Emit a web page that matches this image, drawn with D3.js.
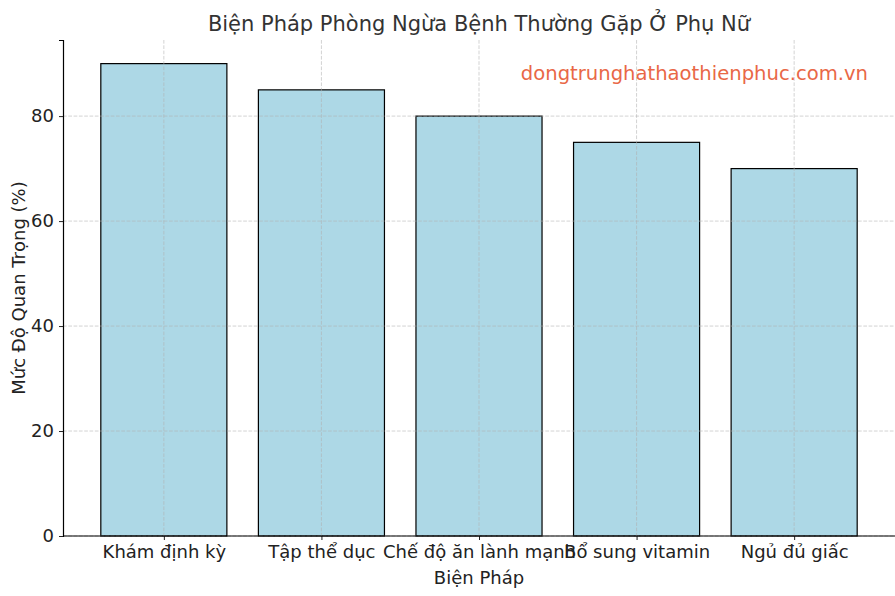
<!DOCTYPE html>
<html><head><meta charset="utf-8">
<script src="https://cdn.jsdelivr.net/npm/d3@7"></script>
<style>body{margin:0;background:#fff}svg{display:block}text{font-family:"DejaVu Sans",sans-serif}</style>
</head><body>
<script>
const categories = ["Khám định kỳ","Tập thể dục","Chế độ ăn lành mạnh","Bổ sung vitamin","Ngủ đủ giấc"];
const values = [90,85,80,75,70];
const yTicks = [0,20,40,60,80];
const title = "Biện Pháp Phòng Ngừa Bệnh Thường Gặp Ở Phụ Nữ";
const xLabel = "Biện Pháp";
const yLabel = "Mức Độ Quan Trọng (%)";
const watermark = "dongtrunghathaothienphuc.com.vn";

const W=895,H=596;
const m={left:63,right:0,top:40,bottom:60};
const svg=d3.select("body").append("svg").attr("width",W).attr("height",H);
const x=d3.scaleLinear().domain([-0.64,4.64]).range([m.left,W-m.right]);
const y=d3.scaleLinear().domain([0,94.5]).range([H-m.bottom,m.top]);
const g=svg.append("g");

// bars
g.selectAll("rect.bar").data(values).join("rect").attr("class","bar")
 .attr("x",(d,i)=>x(i-0.4)).attr("width",(d,i)=>x(i+0.4)-x(i-0.4))
 .attr("y",d=>y(d)).attr("height",d=>y(0)-y(d))
 .attr("fill","#add8e6").attr("stroke","#000").attr("stroke-width",1.2);

// grid over bars
g.selectAll("line.hg").data(yTicks).join("line")
 .attr("x1",m.left).attr("x2",W).attr("y1",d=>y(d)).attr("y2",d=>y(d))
 .attr("stroke","#b0b0b0").attr("stroke-opacity",0.7).attr("stroke-dasharray","3.7,1.6").attr("stroke-width",0.8);
g.selectAll("line.vg").data(categories).join("line")
 .attr("x1",(d,i)=>x(i)).attr("x2",(d,i)=>x(i)).attr("y1",m.top).attr("y2",y(0))
 .attr("stroke","#b0b0b0").attr("stroke-opacity",0.7).attr("stroke-dasharray","3.7,1.6").attr("stroke-width",0.8);

// axes
const yAxis=d3.axisLeft(y).tickValues(yTicks).tickSize(4).tickPadding(5);
const ya=svg.append("g").attr("transform",`translate(${m.left},0)`).call(yAxis);
ya.select(".domain").attr("stroke","#000").attr("stroke-width",1.2);
ya.selectAll("text").attr("font-size",18).attr("fill","#222").attr("font-family","DejaVu Sans");
ya.selectAll(".tick line").attr("stroke","#222");

const xAxis=d3.axisBottom(d3.scalePoint().domain(categories).range([x(0),x(4)])).tickSize(4).tickPadding(5);
const xa=svg.append("g").attr("transform",`translate(0,${y(0)})`).call(xAxis);
xa.select(".domain").remove();
xa.append("line").attr("x1",m.left).attr("x2",W).attr("stroke","#000").attr("stroke-width",1.2);
xa.selectAll("text").attr("font-size",18).attr("fill","#222").attr("font-family","DejaVu Sans");
xa.selectAll(".tick line").attr("stroke","#222");

// labels
svg.append("text").attr("x",479).attr("y",31).attr("text-anchor","middle").attr("font-size",21).attr("fill","#333").text(title);
svg.append("text").attr("x",479).attr("y",584).attr("text-anchor","middle").attr("font-size",18).attr("fill","#222").text(xLabel);
svg.append("text").attr("transform",`translate(25,${(m.top+y(0))/2}) rotate(-90)`).attr("text-anchor","middle").attr("font-size",18).attr("fill","#222").text(yLabel);
svg.append("text").attr("x",868).attr("y",80).attr("text-anchor","end").attr("font-size",19.6).attr("fill","#e8603c")
 .attr("font-family","Liberation Sans, Arial, sans-serif").attr("opacity",0.95).text(watermark);
</script>
</body></html>
